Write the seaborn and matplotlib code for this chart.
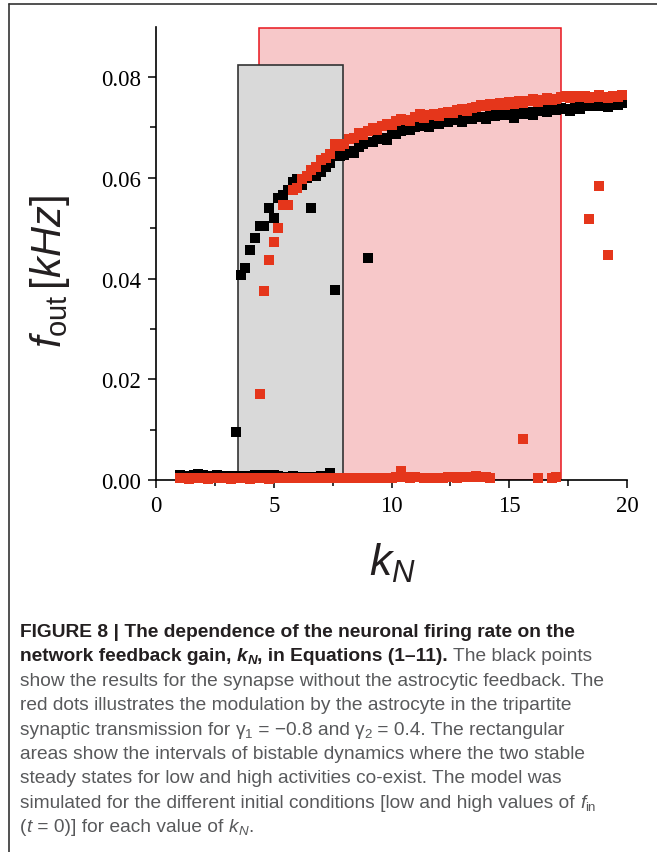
import matplotlib
matplotlib.use("Agg")
import matplotlib.pyplot as plt
import seaborn as sns
import numpy as np
from matplotlib.patches import Rectangle
from matplotlib.lines import Line2D

# ---------------- data ----------------
black_low_k = [1.0, 1.2, 1.4, 1.6, 1.8, 2.0, 2.2, 2.4, 2.6, 2.8, 3.0, 3.2, 3.4, 3.6, 3.8, 4.0,
               4.2, 4.4, 4.6, 4.8, 5.0, 5.2, 5.4, 5.6, 5.8, 6.0, 6.2, 6.4, 6.6, 6.8, 7.0, 7.2, 7.4]
black_low_f = [0.0009, 0.0008, 0.0008, 0.0010, 0.0011, 0.0009, 0.0008, 0.0008, 0.0009, 0.0008,
               0.0008, 0.0007, 0.0008, 0.0007, 0.0007, 0.0008, 0.0009, 0.0010, 0.0008, 0.0009,
               0.0009, 0.0007, 0.0006, 0.0006, 0.0007, 0.0006, 0.0006, 0.0005, 0.0006, 0.0006,
               0.0007, 0.0008, 0.0013]

black_high_k = [3.4, 3.6, 3.8, 4.0, 4.2, 4.4, 4.6, 4.8, 5.0, 5.2, 5.4, 5.6, 5.8, 6.0, 6.2, 6.4,
                6.6, 6.8, 7.0, 7.2, 7.4, 7.6, 7.8, 8.0, 8.2, 8.4, 8.6, 8.8, 9.0, 9.2, 9.4, 9.6,
                9.8, 10.0, 10.2, 10.4, 10.6, 10.8, 11.0, 11.2, 11.4, 11.6, 11.8, 12.0, 12.2,
                12.4, 12.6, 12.8, 13.0, 13.2, 13.4, 13.6, 13.8, 14.0, 14.2, 14.4, 14.6, 14.8,
                15.0, 15.2, 15.4, 15.6, 15.8, 16.0, 16.2, 16.4, 16.6, 16.8, 17.0, 17.2, 17.4,
                17.6, 17.8, 18.0, 18.2, 18.4, 18.6, 18.8, 19.0, 19.2, 19.4, 19.6, 19.8]
black_high_f = [0.0095, 0.0408, 0.0421, 0.0457, 0.0480, 0.0504, 0.0504, 0.0540, 0.0520, 0.0559,
                0.0566, 0.0576, 0.0591, 0.0598, 0.0585, 0.0600, 0.0540, 0.0604, 0.0612, 0.0621,
                0.0630, 0.0377, 0.0644, 0.0646, 0.0654, 0.0650, 0.0662, 0.0667, 0.0441, 0.0672,
                0.0677, 0.0680, 0.0676, 0.0688, 0.0686, 0.0693, 0.0696, 0.0694, 0.0700, 0.0702,
                0.0704, 0.0700, 0.0708, 0.0706, 0.0712, 0.0710, 0.0714, 0.0716, 0.0711, 0.0719,
                0.0716, 0.0722, 0.0720, 0.0717, 0.0724, 0.0722, 0.0727, 0.0724, 0.0728, 0.0719,
                0.0730, 0.0727, 0.0731, 0.0724, 0.0732, 0.0735, 0.0731, 0.0737, 0.0734, 0.0738,
                0.0737, 0.0733, 0.0740, 0.0737, 0.0742, 0.0744, 0.0743, 0.0745, 0.0743, 0.0740,
                0.0745, 0.0744, 0.0748]

red_low_k = [1.0, 1.2, 1.4, 1.6, 1.8, 2.0, 2.2, 2.4, 2.6, 2.8, 3.0, 3.2, 3.4, 3.6, 3.8, 4.0,
             4.2, 4.4, 4.6, 4.8, 5.0, 5.2, 5.4, 5.6, 5.8, 6.0, 6.2, 6.4, 6.6, 6.8, 7.0, 7.2,
             7.4, 7.6, 7.8, 8.0, 8.2, 8.4, 8.6, 8.8, 9.0, 9.2, 9.4, 9.6, 9.8, 10.0, 10.2, 10.4,
             10.6, 10.8, 11.0, 11.4, 11.6, 11.8, 12.0, 12.2, 12.4, 12.6, 12.8, 13.0, 13.2,
             13.4, 13.6, 13.8, 14.0, 14.2, 16.2, 16.8, 17.0]
red_low_f = [0.0003, 0.0003, 0.0002, 0.0003, 0.0003, 0.0003, 0.0002, 0.0003, 0.0003, 0.0003,
             0.0003, 0.0002, 0.0003, 0.0003, 0.0003, 0.0002, 0.0003, 0.0003, 0.0003, 0.0002,
             0.0003, 0.0003, 0.0003, 0.0003, 0.0003, 0.0004, 0.0003, 0.0003, 0.0003, 0.0004,
             0.0003, 0.0004, 0.0004, 0.0004, 0.0004, 0.0004, 0.0003, 0.0004, 0.0004, 0.0004,
             0.0004, 0.0003, 0.0004, 0.0004, 0.0004, 0.0004, 0.0005, 0.0018, 0.0005, 0.0004,
             0.0005, 0.0004, 0.0004, 0.0004, 0.0004, 0.0004, 0.0005, 0.0005, 0.0004, 0.0005,
             0.0005, 0.0005, 0.0007, 0.0006, 0.0005, 0.0004, 0.0004, 0.0004, 0.0005]

red_high_k = [4.4, 4.6, 4.8, 5.0, 5.2, 5.4, 5.6, 5.8, 6.0, 6.2, 6.4, 6.6, 6.8, 7.0, 7.2, 7.4,
              7.6, 7.8, 8.0, 8.2, 8.4, 8.6, 8.8, 9.0, 9.2, 9.4, 9.6, 9.8, 10.0, 10.2, 10.4,
              10.6, 10.8, 11.0, 11.2, 11.4, 11.6, 11.8, 12.0, 12.2, 12.4, 12.6, 12.8, 13.0,
              13.2, 13.4, 13.6, 13.8, 14.0, 14.2, 14.4, 14.6, 14.8, 15.0, 15.2, 15.4, 15.6,
              15.8, 16.0, 16.2, 16.4, 16.6, 16.8, 17.0, 17.2, 17.4, 17.6, 17.8, 18.0, 18.2,
              18.4, 18.6, 18.8, 19.0, 19.2, 19.4, 19.6, 19.8]
red_high_f = [0.0171, 0.0376, 0.0437, 0.0472, 0.0500, 0.0546, 0.0546, 0.0576, 0.0580, 0.0598,
              0.0604, 0.0616, 0.0622, 0.0636, 0.0640, 0.0647, 0.0667, 0.0664, 0.0667, 0.0677,
              0.0680, 0.0688, 0.0685, 0.0693, 0.0698, 0.0695, 0.0702, 0.0707, 0.0705, 0.0712,
              0.0716, 0.0714, 0.0712, 0.0720, 0.0726, 0.0718, 0.0724, 0.0726, 0.0723, 0.0729,
              0.0731, 0.0728, 0.0735, 0.0737, 0.0733, 0.0738, 0.0741, 0.0744, 0.0742, 0.0746,
              0.0744, 0.0748, 0.0745, 0.0750, 0.0747, 0.0752, 0.0749, 0.0753, 0.0756, 0.0751,
              0.0755, 0.0759, 0.0754, 0.0757, 0.0760, 0.0762, 0.0758, 0.0762, 0.0760, 0.0763,
              0.0759, 0.0761, 0.0764, 0.0760, 0.0758, 0.0762, 0.0760, 0.0765]

red_mid_k = [15.6, 18.4, 18.8, 19.2]
red_mid_f = [0.0081, 0.0518, 0.0584, 0.0447]

# bistable intervals [k_start, k_end, f_top]
gray_interval = [3.47, 7.95, 0.0823]
red_interval = [4.36, 17.2, 0.0898]

x_ticks = [0, 5, 10, 15, 20]
y_ticks = [0.00, 0.02, 0.04, 0.06, 0.08]

assert len(black_low_k) == len(black_low_f)
assert len(black_high_k) == len(black_high_f)
assert len(red_low_k) == len(red_low_f)
assert len(red_high_k) == len(red_high_f)

# ---------------- style ----------------
sns.set_style("ticks")
plt.rcParams['font.family'] = ['Liberation Sans', 'DejaVu Sans']
plt.rcParams['mathtext.fontset'] = 'custom'
plt.rcParams['mathtext.it'] = 'Liberation Sans:italic'
plt.rcParams['mathtext.rm'] = 'Liberation Sans'
plt.rcParams['mathtext.bf'] = 'Liberation Sans:bold'

W, H = 657, 853
fig = plt.figure(figsize=(W / 100, H / 100), dpi=100)
ax = fig.add_axes([156 / W, 1 - 481 / H, (627 - 156) / W, (481 - 27.7) / H])

RED = "#e5361b"
BLK = "#000000"
ms = 50

# rectangles
ax.add_patch(Rectangle((red_interval[0], 0), red_interval[1] - red_interval[0], red_interval[2],
                       facecolor="#f7c8c9", edgecolor="#e8161e", linewidth=1.1, zorder=1))
ax.add_patch(Rectangle((gray_interval[0], 0), gray_interval[1] - gray_interval[0], gray_interval[2],
                       facecolor="#d9d9d9", edgecolor="#333333", linewidth=1.2, zorder=1.5))

for kk, ff, c in [(black_low_k, black_low_f, BLK), (black_high_k, black_high_f, BLK),
                  (red_low_k, red_low_f, RED), (red_high_k, red_high_f, RED),
                  (red_mid_k, red_mid_f, RED)]:
    sns.scatterplot(x=kk, y=ff, color=c, marker='s', s=ms, linewidth=0, ax=ax,
                    zorder=4, clip_on=False, legend=False)

ax.set_xlim(0, 20)
ax.set_ylim(0, 0.09)
ax.set_xticks(x_ticks)
ax.set_xticklabels([str(v) for v in x_ticks])
ax.set_yticks(y_ticks)
ax.set_yticklabels([f"{v:.2f}" for v in y_ticks])
ax.set_xticks([2.5, 7.5, 12.5, 17.5], minor=True)
ax.set_yticks([0.01, 0.03, 0.05, 0.07], minor=True)
for s in ['top', 'right']:
    ax.spines[s].set_visible(False)
for s in ['left', 'bottom']:
    ax.spines[s].set_linewidth(1.2)
    ax.spines[s].set_color('black')
ax.tick_params(which='major', length=6, width=1.1, color='black', pad=5)
ax.tick_params(which='minor', length=4.5, width=1.1, color='black')
for lab in ax.get_xticklabels() + ax.get_yticklabels():
    lab.set_fontfamily('Liberation Serif')
    lab.set_fontsize(16.5)
    lab.set_color('black')
ax.set_xlabel('')
ax.set_ylabel('')
ax.set_facecolor('white')

# axis labels
fig.text(50 / W, 1 - 272 / H, r'$f_{\mathrm{out}}\,[kHz]$', rotation=90, ha='center',
         va='center', fontsize=30, color='#231f20')
fig.text(392 / W, 1 - 563 / H, r'$k_N$', ha='center', va='center', fontsize=32,
         color='#231f20')

# frame lines
fig.add_artist(Line2D([8.5 / W, 1], [1 - 5 / H, 1 - 5 / H], transform=fig.transFigure,
                      color='#333333', lw=1.2))
fig.add_artist(Line2D([9 / W, 9 / W], [0, 1 - 5 / H], transform=fig.transFigure,
                      color='#333333', lw=1.2))

# ---------------- caption ----------------
renderer = fig.canvas.get_renderer()
CAP = 13.8
BOLDC = '#231f20'
REGC = '#58595b'


def advance(text, kw):
    t1 = fig.text(0, 0, 'x' + text + 'x', **kw)
    t2 = fig.text(0, 0, 'xx', **kw)
    w = t1.get_window_extent(renderer).width - t2.get_window_extent(renderer).width
    t1.remove()
    t2.remove()
    return w


def line(ybase, segs, x0=20):
    x = x0
    for seg in segs:
        text, kw = seg[0], dict(seg[1])
        dy = seg[2] if len(seg) > 2 else 0
        kw.setdefault('fontsize', CAP)
        kw.setdefault('family', ['Liberation Sans', 'DejaVu Sans'])
        fig.text(x / W, 1 - (ybase + dy) / H, text, ha='left', va='baseline', **kw)
        x += advance(text, kw)


B = dict(fontweight='bold', color=BOLDC)
BI = dict(fontweight='bold', style='italic', color=BOLDC)
BIS = dict(fontweight='bold', style='italic', color=BOLDC, fontsize=CAP * 0.7)
R = dict(color=REGC)
RI = dict(color=REGC, style='italic')
RIS = dict(color=REGC, style='italic', fontsize=CAP * 0.7)
RS = dict(color=REGC, fontsize=CAP * 0.7)

y0 = 637
dyl = 24.4
lines = [
    [("FIGURE 8 | The dependence of the neuronal firing rate on the", B)],
    [("network feedback gain, ", B), ("k", BI), ("N", BIS, 3), (", in Equations (1\u201311).", B),
     (" The black points", R)],
    [("show the results for the synapse without the astrocytic feedback. The", R)],
    [("red dots illustrates the modulation by the astrocyte in the tripartite", R)],
    [("synaptic transmission for ", R), ("\u03b3", R), ("1", RS, 3), (" = \u22120.8 and ", R),
     ("\u03b3", R), ("2", RS, 3), (" = 0.4. The rectangular", R)],
    [("areas show the intervals of bistable dynamics where the two stable", R)],
    [("steady states for low and high activities co-exist. The model was", R)],
    [("simulated for the different initial conditions [low and high values of ", R),
     ("f", RI), ("in", RS, 3)],
    [("(", R), ("t", RI), (" = 0)] for each value of ", R), ("k", RI), ("N", RIS, 3), (".", R)],
]
for i, segs in enumerate(lines):
    line(y0 + i * dyl, segs)

fig.savefig("out.png", dpi=100, facecolor='white')
